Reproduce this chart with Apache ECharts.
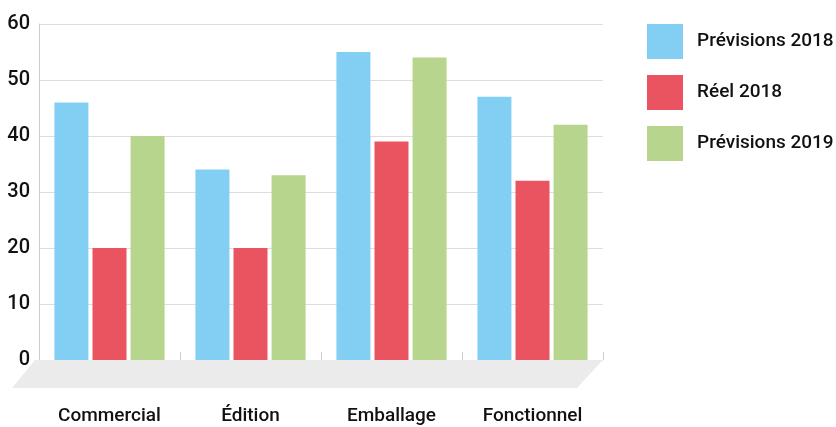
<!DOCTYPE html>
<html>
<head>
<meta charset="utf-8">
<script src="https://cdn.jsdelivr.net/npm/echarts@6/dist/echarts.min.js"></script>
<style>
html,body{margin:0;padding:0;background:#fff;}
#main{width:836px;height:427px;}
</style>
</head>
<body>
<div id="main"></div>
<script>
var categories = ['Commercial', 'Édition', 'Emballage', 'Fonctionnel'];
var seriesNames = ['Prévisions 2018', 'Réel 2018', 'Prévisions 2019'];
var prev2018 = [46, 34, 55, 47];
var reel2018 = [20, 20, 39, 32];
var prev2019 = [40, 33, 54, 42];
var yTicks = [0, 10, 20, 30, 40, 50, 60];
var colors = ['#83cff4', '#ea5461', '#b7d58d'];
var font = "Roboto, 'Noto Sans', sans-serif";

var chart = echarts.init(document.getElementById('main'));
var values = [prev2018, reel2018, prev2019];
var series = [];
for (var i = 0; i < seriesNames.length; i++) {
	series.push({
		name: seriesNames[i],
		type: 'bar',
		data: values[i],
		barWidth: 34,
		barGap: '12%',
		itemStyle: {color: colors[i]},
		z: 3
	});
}
var option = {
	animation: false,
	textStyle: {fontFamily: font},
	grid: {left: 39, right: 233, top: 24, bottom: 67, containLabel: false},
	legend: {
		orient: 'vertical',
		left: 647,
		top: 24,
		padding: 0,
		itemWidth: 36,
		itemHeight: 35,
		itemGap: 16,
		icon: 'rect',
		textStyle: {fontSize: 19, fontWeight: 500, color: '#111', fontFamily: font, padding: [0, 0, 0, 9]},
		data: seriesNames
	},
	xAxis: {
		type: 'category',
		data: categories,
		axisLine: {show: false},
		axisTick: {show: true, inside: true, length: 8, lineStyle: {color: '#cccccc'}},
		axisLabel: {margin: 47, fontSize: 19, fontWeight: 500, color: '#111', fontFamily: font}
	},
	yAxis: {
		type: 'value',
		min: yTicks[0],
		max: yTicks[yTicks.length - 1],
		interval: 10,
		axisLine: {show: true, lineStyle: {color: '#cccccc'}},
		axisTick: {show: false},
		axisLabel: {margin: 9, fontSize: 20, fontWeight: 500, color: '#111', fontFamily: font},
		splitLine: {lineStyle: {color: '#dddddd'}}
	},
	series: series
};
chart.setOption(option);

// plancher gris en perspective sous l'axe
var rect = chart.getModel().getComponent('grid').coordinateSystem.getRect();
var x0 = rect.x, x1 = rect.x + rect.width, y0 = rect.y + rect.height;
chart.setOption({
	graphic: [{
		type: 'polygon',
		z: 1,
		shape: {points: [[x0 - 4, y0], [x1, y0], [x1 - 26, y0 + 28], [x0 - 27, y0 + 28]]},
		style: {fill: '#ebebeb'}
	}]
});
</script>
</body>
</html>
